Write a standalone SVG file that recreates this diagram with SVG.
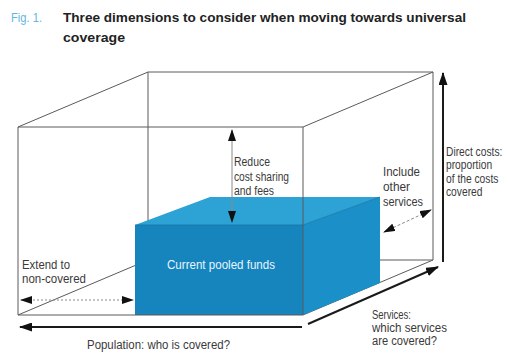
<svg xmlns="http://www.w3.org/2000/svg" width="508" height="354" viewBox="0 0 508 354">
  <style>
    .edge { stroke: #5a5a5a; stroke-width: 1; fill: none; }
    .lbl { font-family: "Liberation Sans", Arial, sans-serif; font-size: 12.5px; fill: #3a3a3a; }
    .title { font-family: "Liberation Sans", Arial, sans-serif; font-size: 13.5px; font-weight: bold; fill: #222222; }
    .fig { font-family: "Liberation Sans", Arial, sans-serif; font-size: 12.5px; fill: #5fb6e2; }
    .thick { stroke: #1a1a1a; stroke-width: 2; fill: none; }
    .thin { stroke: #8a8a8a; stroke-width: 1; fill: none; }
  </style>
  <defs>
    <marker id="head" viewBox="0 0 13 9" refX="12" refY="4.5" markerWidth="13" markerHeight="9" markerUnits="userSpaceOnUse" orient="auto-start-reverse">
      <path d="M0,0 L13,4.5 L0,9 z" fill="#111"/>
    </marker>
    <marker id="headS" viewBox="0 0 12 8" refX="11" refY="4" markerWidth="12" markerHeight="8" markerUnits="userSpaceOnUse" orient="auto-start-reverse">
      <path d="M0,0 L12,4 L0,8 z" fill="#111"/>
    </marker>
  </defs>

  <rect width="508" height="354" fill="#ffffff"/>

  <!-- heading -->
  <g id="title">
    <text class="fig" x="11" y="22" textLength="31" lengthAdjust="spacingAndGlyphs">Fig. 1.</text>
    <text class="title" x="63" y="22" textLength="403" lengthAdjust="spacingAndGlyphs">Three dimensions to consider when moving towards universal</text>
    <text class="title" x="63" y="42" textLength="62" lengthAdjust="spacingAndGlyphs">coverage</text>
  </g>

  <!-- hidden/back edges of the coverage cube -->
  <g id="cube-back">
    <path class="edge" d="M148,72 H433 V260 H148 Z"/>
    <path class="edge" d="M18,127 L148,72 M303,127 L433,72 M18,315 L148,260 M303,315 L433,260"/>
  </g>

  <!-- current pooled funds block -->
  <g id="pooled-funds">
    <polygon points="135,225 210,197 380,197 303,225" fill="#2ca2d5"/>
    <polygon points="303,225 380,197 380,283 303,315" fill="#1a8fc8"/>
    <rect x="135" y="225" width="168" height="90" fill="#1684bd"/>
    <path d="M135,225 H303 L380,197" stroke="#1672a6" stroke-width="0.8" fill="none"/>
    <text x="221" y="269" text-anchor="middle" textLength="108" lengthAdjust="spacingAndGlyphs" style="font-family:'Liberation Sans',Arial,sans-serif;font-size:12.5px;fill:#e8f6ff">Current pooled funds</text>
  </g>

  <!-- front edges of the cube -->
  <g id="cube-front">
    <path class="edge" d="M18,127 H303 V315 H18 Z"/>
  </g>

  <!-- arrows -->
  <g id="connectors">
    <line class="thin" x1="232" y1="130" x2="232" y2="222" marker-start="url(#headS)" marker-end="url(#headS)"/>
    <line class="thin" x1="384" y1="232" x2="431" y2="210" stroke-dasharray="3,2" marker-start="url(#headS)" marker-end="url(#headS)"/>
    <line class="thin" x1="21" y1="300" x2="133" y2="300" stroke-dasharray="2,2" marker-start="url(#headS)" marker-end="url(#headS)"/>
    <line class="thick" x1="302" y1="327" x2="20" y2="327" marker-end="url(#head)"/>
    <line class="thick" x1="443" y1="262" x2="443" y2="73" marker-end="url(#head)"/>
    <line class="thick" x1="308" y1="324" x2="438" y2="267" marker-end="url(#head)"/>
  </g>

  <!-- labels -->
  <g id="label-reduce">
    <text class="lbl" x="234" y="166" textLength="36" lengthAdjust="spacingAndGlyphs">Reduce</text>
    <text class="lbl" x="234" y="180.5" textLength="55" lengthAdjust="spacingAndGlyphs">cost sharing</text>
    <text class="lbl" x="234" y="195" textLength="40" lengthAdjust="spacingAndGlyphs">and fees</text>
  </g>
  <g id="label-include">
    <text class="lbl" x="383" y="176" textLength="37" lengthAdjust="spacingAndGlyphs">Include</text>
    <text class="lbl" x="383" y="191" textLength="27" lengthAdjust="spacingAndGlyphs">other</text>
    <text class="lbl" x="383" y="206" textLength="40" lengthAdjust="spacingAndGlyphs">services</text>
  </g>
  <!-- condensed horizontally so the block stays inside the right margin -->
  <g id="label-direct" transform="translate(446,0) scale(0.82,1)">
    <text class="lbl" x="0" y="156">Direct costs:</text>
    <text class="lbl" x="0" y="169.5">proportion</text>
    <text class="lbl" x="0" y="183">of the costs</text>
    <text class="lbl" x="0" y="196.5">covered</text>
  </g>
  <g id="label-extend">
    <text class="lbl" x="22" y="269" textLength="48" lengthAdjust="spacingAndGlyphs">Extend to</text>
    <text class="lbl" x="22" y="283" textLength="64" lengthAdjust="spacingAndGlyphs">non-covered</text>
  </g>
  <g id="label-population">
    <text class="lbl" x="87" y="349" textLength="143" lengthAdjust="spacingAndGlyphs">Population: who is covered?</text>
  </g>
  <g id="label-services">
    <text class="lbl" x="372" y="319" textLength="39" lengthAdjust="spacingAndGlyphs">Services:</text>
    <text class="lbl" x="372" y="332" textLength="75" lengthAdjust="spacingAndGlyphs">which services</text>
    <text class="lbl" x="372" y="345" textLength="65" lengthAdjust="spacingAndGlyphs">are covered?</text>
  </g>
</svg>
